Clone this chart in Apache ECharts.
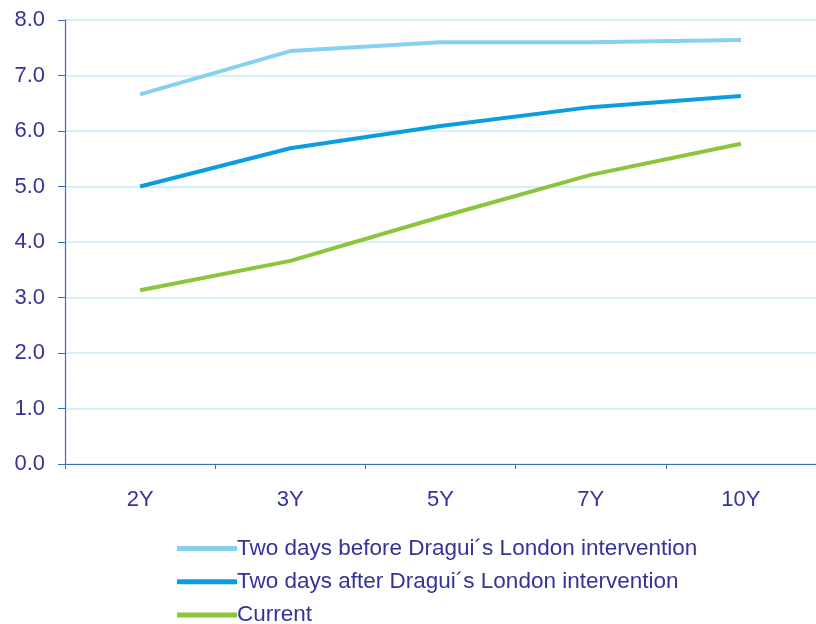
<!DOCTYPE html>
<html><head><meta charset="utf-8">
<script src="https://cdn.jsdelivr.net/npm/echarts@6/dist/echarts.min.js"></script>
<style>html,body{margin:0;padding:0;background:#fff}#c{width:816px;height:624px}</style>
</head><body><div id="c"></div>
<script>
const categories = ['2Y', '3Y', '5Y', '7Y', '10Y'];
const seriesNames = ['Two days before Dragui\u00b4s London intervention', 'Two days after Dragui\u00b4s London intervention', 'Current'];
const before = [6.66, 7.44, 7.60, 7.60, 7.64];
const after = [5.00, 5.69, 6.09, 6.43, 6.63];
const current = [3.13, 3.66, 4.45, 5.21, 5.77];
const colors = ['#88d0f0', '#0a9ee0', '#8cc43c'];
const textColor = '#333399';
const chart = echarts.init(document.getElementById('c'));
const mk = (name, data, color) => ({
  name, type: 'line', data, symbol: 'none', smooth: false,
  lineStyle: { width: 4, color }, itemStyle: { color }
});
chart.setOption({
  animation: false,
  grid: { left: 65, top: 20, bottom: 160, right: -4 },
  xAxis: {
    type: 'category', data: categories, boundaryGap: true,
    axisLine: { lineStyle: { color: '#3a6cc0', width: 1.2 } },
    axisTick: { show: true, length: 5, lineStyle: { color: '#3a6cc0' } },
    axisLabel: { color: textColor, fontSize: 22, fontFamily: 'Liberation Sans', margin: 25 },
    splitLine: { show: false }
  },
  yAxis: {
    type: 'value', min: 0, max: 8, interval: 1,
    axisLine: { show: true, lineStyle: { color: '#3a6cc0', width: 1.2 } },
    axisTick: { show: true, length: 7, lineStyle: { color: '#3a6cc0' } },
    axisLabel: { color: textColor, fontSize: 22, fontFamily: 'Liberation Sans', margin: 20, formatter: v => v.toFixed(1) },
    splitLine: { show: true, lineStyle: { color: '#c8ebf8', width: 1.5 } }
  },
  legend: {
    orient: 'vertical', left: 172, top: 532, height: 200, itemGap: 10.3,
    icon: 'rect', itemWidth: 60, itemHeight: 5,
    textStyle: { color: textColor, fontSize: 22.5, fontFamily: 'Liberation Sans', padding: [0, 0, 0, -5] },
    data: seriesNames
  },
  series: [mk(seriesNames[0], before, colors[0]), mk(seriesNames[1], after, colors[1]), mk(seriesNames[2], current, colors[2])]
});
</script></body></html>
